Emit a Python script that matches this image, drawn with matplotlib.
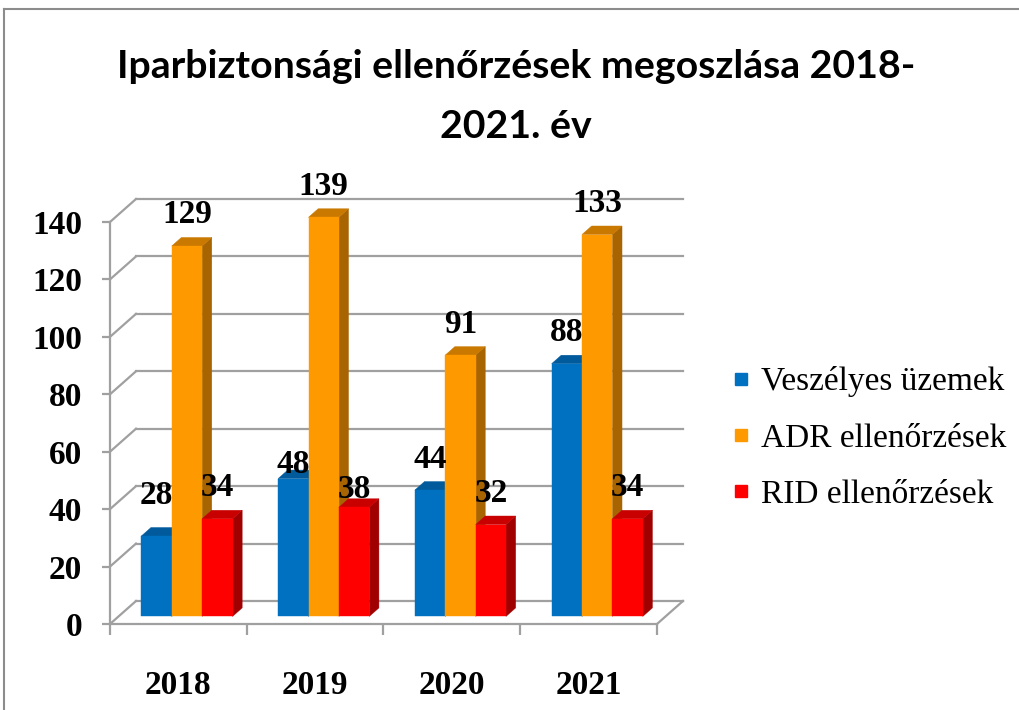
import matplotlib
matplotlib.use("Agg")
import matplotlib.pyplot as plt
from matplotlib.patches import Polygon
from matplotlib.lines import Line2D
from matplotlib import font_manager
import numpy as np

# ---------------- data ----------------
years = ["2018", "2019", "2020", "2021"]
series_names = ["Veszélyes üzemek", "ADR ellenőrzések", "RID ellenőrzések"]
veszelyes = [28, 48, 44, 88]
adr = [129, 139, 91, 133]
rid = [34, 38, 32, 34]
yticks = [0, 20, 40, 60, 80, 100, 120, 140]
title_line1 = "Iparbiztonsági ellenőrzések megoszlása 2018-"
title_line2 = "2021. év"

# ---------------- style ----------------
front_colors = ["#0070C0", "#FF9900", "#FF0000"]
top_colors = ["#005A9C", "#C97800", "#C80000"]
side_colors = ["#00508C", "#A86400", "#A00000"]
grid_c = "#A0A0A0"

def has_font(name):
    try:
        font_manager.findfont(font_manager.FontProperties(family=name), fallback_to_default=False)
        return True
    except Exception:
        return False

serif = "Liberation Serif" if has_font("Liberation Serif") else "DejaVu Serif"
title_font = next((f for f in ["Liberation Sans Narrow", "Lato", "Open Sans"] if has_font(f)), "DejaVu Sans")

W, H, DPI = 1020, 710, 100
fig = plt.figure(figsize=(W / DPI, H / DPI), dpi=DPI)
fig.patch.set_facecolor("white")

# front plane of the plot in pixels
x0, x1 = 110, 657
y0, y1 = 624, 222
ax = fig.add_axes([x0 / W, (H - y0) / H, (x1 - x0) / W, (y0 - y1) / H])
ax.set_xlim(-0.5, len(years) - 0.5)
ax.set_ylim(0, 140)
ax.patch.set_visible(False)

# depth vector (pixels) converted to data units
depth_px = (26, 23)
px_per_x = (x1 - x0) / len(years)
px_per_y = (y0 - y1) / 140
DX = depth_px[0] / px_per_x
DY = depth_px[1] / px_per_y

# back wall + side wall gridlines
xl, xr = -0.5, len(years) - 0.5
for t in yticks:
    ax.plot([xl + DX, xr + DX], [t + DY, t + DY], color=grid_c, lw=1.6, clip_on=False, zorder=1)
    ax.plot([xl, xl + DX], [t, t + DY], color=grid_c, lw=1.6, clip_on=False, zorder=1)
ax.plot([xr, xr + DX], [0, DY], color=grid_c, lw=1.6, clip_on=False, zorder=1)

# bars
xs = np.arange(len(years))
w = 1 / 4.5
ff, fb = 0.33, 0.70
series = [veszelyes, adr, rid]
label_nudge_px = {(0, 0): 10, (1, 0): -17, (1, 2): -13}
for j, vals in enumerate(series):
    xc = xs + (j - 1) * w + ff * DX
    bars = ax.bar(xc, vals, w, bottom=ff * DY, color=front_colors[j],
                  edgecolor=front_colors[j], lw=0.3, clip_on=False)
    for i, (p, v) in enumerate(zip(bars, vals)):
        base = 10 + i * 20 + j * 4
        p.set_zorder(base + 2)
        xr_b = xc[i] + w / 2
        xl_b = xc[i] - w / 2
        ddx, ddy = (fb - ff) * DX, (fb - ff) * DY
        yb = ff * DY
        side = Polygon([(xr_b, yb), (xr_b, yb + v), (xr_b + ddx, yb + v + ddy), (xr_b + ddx, yb + ddy)],
                       closed=True, facecolor=side_colors[j], edgecolor=side_colors[j], lw=0.3,
                       clip_on=False, zorder=base)
        top = Polygon([(xl_b, yb + v), (xr_b, yb + v), (xr_b + ddx, yb + v + ddy), (xl_b + ddx, yb + v + ddy)],
                      closed=True, facecolor=top_colors[j], edgecolor=top_colors[j], lw=0.3,
                      clip_on=False, zorder=base + 1)
        ax.add_patch(side)
        ax.add_patch(top)
        dy_px = 31 + label_nudge_px.get((i, j), 0)
        ax.annotate(str(v), xy=(xc[i], yb + v), xytext=(0, dy_px * 72 / DPI),
                    textcoords="offset points", ha="center", va="center",
                    fontsize=24, fontweight="bold", family=serif, color="black",
                    zorder=200, annotation_clip=False)

# axes styling
for s in ["top", "right"]:
    ax.spines[s].set_visible(False)
for s in ["left", "bottom"]:
    ax.spines[s].set_color(grid_c)
    ax.spines[s].set_linewidth(1.6)
    ax.spines[s].set_zorder(1)

ax.set_yticks(yticks)
ax.set_yticklabels([str(t) for t in yticks], fontsize=24, fontweight="bold", family=serif)
ax.tick_params(axis="y", length=6, width=1.6, color=grid_c, pad=14)

ax.set_xticks(xs)
ax.set_xticklabels(years, fontsize=24, fontweight="bold", family=serif)
ax.set_xticks(np.arange(-0.5, len(years), 1.0), minor=True)
ax.tick_params(axis="x", which="major", length=0, pad=33)
ax.tick_params(axis="x", which="minor", length=8, width=1.6, color=grid_c)

# legend
handles = [Line2D([], [], marker="s", linestyle="", markerfacecolor=c, markeredgecolor=c, markersize=9)
           for c in front_colors]
fig.legend(handles, series_names, loc="center left", bbox_to_anchor=(731 / W, (H - 438) / H),
           frameon=False, prop={"family": serif, "size": 24}, handlelength=0.6,
           handletextpad=0.3, labelspacing=0.77, borderpad=0, borderaxespad=0)

# title
t1 = fig.text(516 / W, (H - 78) / H, title_line1, ha="center", va="baseline",
              fontsize=30, fontweight="bold", family=title_font)
t2 = fig.text(516 / W, (H - 138) / H, title_line2, ha="center", va="baseline",
              fontsize=30, fontweight="bold", family=title_font)
fig.canvas.draw()
bb = t1.get_window_extent()
fs = 30 * 797 / bb.width
t1.set_fontsize(fs)
t2.set_fontsize(fs)

# outer border (top and left)
fig.add_artist(Line2D([4 / W, 1], [(H - 9) / H, (H - 9) / H], color="#8C8C8C", lw=1.5))
fig.add_artist(Line2D([4 / W, 4 / W], [0, (H - 9) / H], color="#8C8C8C", lw=1.5))

fig.savefig("out.png", dpi=DPI, facecolor="white")
